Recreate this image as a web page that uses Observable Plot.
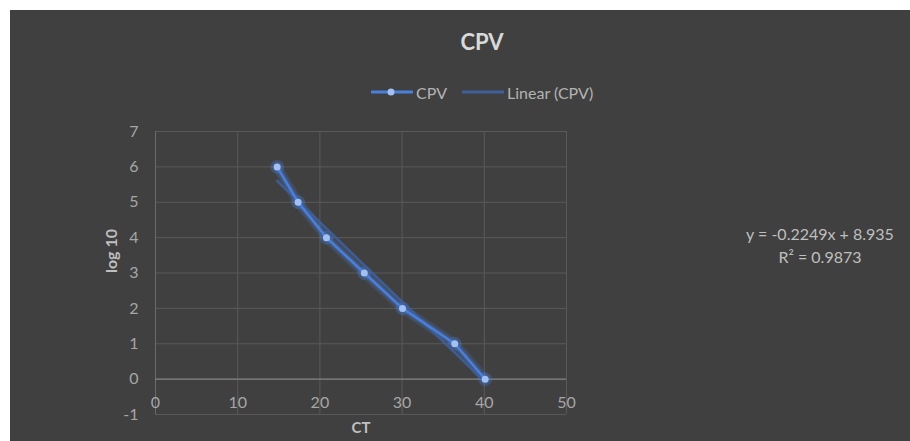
<!DOCTYPE html>
<html>
<head>
<meta charset="utf-8">
<script src="https://cdn.jsdelivr.net/npm/d3@7"></script>
<script src="https://cdn.jsdelivr.net/npm/@observablehq/plot@0.6"></script>
<style>
  html, body { margin: 0; padding: 0; background: #ffffff; }
  #wrap { position: absolute; left: 10px; top: 10px; width: 900px; height: 431px; background: #404040; overflow: hidden; font-family: Lato, "Open Sans", sans-serif; }
  #title { position: absolute; left: 0; width: 944px; top: 18px; text-align: center; font-size: 22px; font-weight: bold; color: #d9d9d9; }
  #legend { position: absolute; left: 360px; top: 71px; height: 22px; display: flex; align-items: center; font-size: 16px; color: #b3b3b3; }
  #legend .item { display: flex; align-items: center; margin-right: 14px; }
  #legend svg { margin-right: 2px; }
  #eq { position: absolute; left: 710px; width: 200px; top: 212px; text-align: center; font-size: 16px; line-height: 23px; color: #bfbfbf; }
  #chart { position: absolute; left: 0; top: 105px; }
</style>
</head>
<body>
<div id="wrap">
  <div id="title"></div>
  <div id="legend"></div>
  <div id="eq"></div>
  <div id="chart"></div>
</div>
<script>
const chartTitle = "CPV";
const seriesName = "CPV";
const trendName = "Linear (CPV)";
const ct = [14.8, 17.35, 20.8, 25.4, 30.05, 36.4, 40.1];
const log10 = [6, 5, 4, 3, 2, 1, 0];
const xTicks = [0, 10, 20, 30, 40, 50];
const yTicks = [-1, 0, 1, 2, 3, 4, 5, 6, 7];
const slope = -0.2249;
const intercept = 8.935;
const rSquared = 0.9873;
const xLabel = "CT";
const yLabel = "log 10";

const lineColor = "#4a7fdc";
const dotColor = "#a3c0f2";
const trendColor = "#3e5f9c";
const gridColor = "#595959";
const tickColor = "#a6a6a6";

const points = ct.map((x, i) => ({x, y: log10[i]}));
const xmin = d3.min(ct), xmax = d3.max(ct);
const trend = [xmin, xmax].map(x => ({x, y: slope * x + intercept}));

document.getElementById("title").textContent = chartTitle;
document.getElementById("eq").innerHTML =
  `y = ${slope}x + ${intercept}<br>R² = ${rSquared}`;

document.getElementById("legend").innerHTML = `
  <div class="item"><svg width="44" height="10"><line x1="1" y1="5" x2="43" y2="5" stroke="${lineColor}" stroke-width="3"/><circle cx="21" cy="5" r="3.5" fill="${dotColor}"/></svg>${seriesName}</div>
  <div class="item"><svg width="44" height="10"><line x1="1" y1="5" x2="43" y2="5" stroke="${trendColor}" stroke-width="3"/></svg>${trendName}</div>`;

const plot = Plot.plot({
  width: 900,
  height: 326,
  marginTop: 16,
  marginBottom: 27,
  marginLeft: 145,
  marginRight: 344,
  x: {domain: [0, 50], axis: null},
  y: {domain: [-1, 7], axis: null},
  style: {background: "transparent", fontFamily: "Lato, 'Open Sans', sans-serif", fontSize: "14px", overflow: "visible"},
  marks: [
    Plot.ruleX(xTicks, {stroke: gridColor, strokeWidth: 1}),
    Plot.ruleY(yTicks, {stroke: gridColor, strokeWidth: 1}),
    Plot.ruleX([0], {stroke: "#6a6a6a", strokeWidth: 1}),
    Plot.ruleY([0], {stroke: "#808080", strokeWidth: 1.3}),
    Plot.text(xTicks, {x: d => d, y: () => 0, dy: 24, text: d => String(d), fill: tickColor, fontSize: 16}),
    Plot.text(yTicks, {x: () => 0, y: d => d, dx: -17, textAnchor: "end", text: d => String(d), fill: tickColor, fontSize: 16}),
    Plot.text([xLabel], {frameAnchor: "bottom", dy: 18, text: d => d, fill: "#bfbfbf", fontWeight: "bold", fontSize: 15}),
    Plot.text([yLabel], {frameAnchor: "left", dx: -44, rotate: -90, text: d => d, fill: "#bfbfbf", fontWeight: "bold", fontSize: 16}),
    // glow
    Plot.line(points, {x: "x", y: "y", stroke: lineColor, strokeWidth: 10, strokeOpacity: 0.18}),
    Plot.line(points, {x: "x", y: "y", stroke: lineColor, strokeWidth: 6, strokeOpacity: 0.25}),
    Plot.dot(points, {x: "x", y: "y", r: 7, fill: lineColor, fillOpacity: 0.3}),
    // trendline
    Plot.line(trend, {x: "x", y: "y", stroke: trendColor, strokeWidth: 2.5, strokeOpacity: 0.9}),
    // series
    Plot.line(points, {x: "x", y: "y", stroke: lineColor, strokeWidth: 2.5}),
    Plot.dot(points, {x: "x", y: "y", r: 3.5, fill: dotColor, stroke: "none"})
  ]
});
document.getElementById("chart").appendChild(plot);
</script>
</body>
</html>
